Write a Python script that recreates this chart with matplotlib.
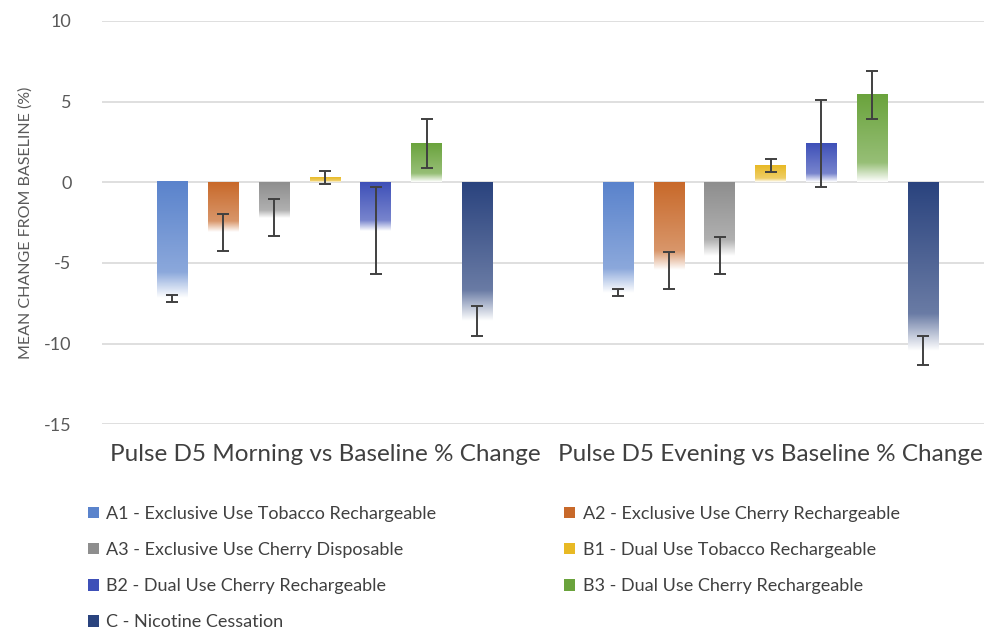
import numpy as np
import matplotlib.pyplot as plt
from matplotlib.patches import Patch
from matplotlib.colors import to_rgb

plt.rcParams.update({
    "font.family": ["Lato", "DejaVu Sans"],
    "text.color": "#595959",
    "axes.labelcolor": "#595959",
    "xtick.color": "#595959",
    "ytick.color": "#595959",
    "axes.unicode_minus": False,
})

categories = ["Pulse D5 Morning vs Baseline % Change",
              "Pulse D5 Evening vs Baseline % Change"]
series = ["A1 - Exclusive Use Tobacco Rechargeable",
          "A2 - Exclusive Use Cherry Rechargeable",
          "A3 - Exclusive Use Cherry Disposable",
          "B1 - Dual Use Tobacco Rechargeable",
          "B2 - Dual Use Cherry Rechargeable",
          "B3 - Dual Use Cherry Rechargeable",
          "C - Nicotine Cessation"]
morning = [-7.2, -3.1, -2.2, 0.28, -3.0, 2.4, -8.6]
evening = [-6.85, -5.45, -4.55, 1.05, 2.4, 5.4, -10.45]
morning_err = [0.2, 1.15, 1.15, 0.4, 2.7, 1.5, 0.93]
evening_err = [0.2, 1.15, 1.15, 0.4, 2.7, 1.5, 0.9]
colors = ["#5A83CC", "#C8692A", "#8E8E8E", "#E8B924",
          "#3E50B8", "#6AA33C", "#2A437E"]

values = np.array([morning, evening])
errors = np.array([morning_err, evening_err])


def gradient_bar(ax, x, w, v, color):
    # excel-style gradient: full colour at top, fading to white at bottom
    top, bottom = max(v, 0), min(v, 0)
    n = 200
    t = np.linspace(0, 1, n)[:, None]
    mix = np.where(t < 0.78, 0.3 * t / 0.78, 0.3 + 0.7 * (t - 0.78) / 0.22)
    base = np.array(to_rgb(color))
    rgb = base * (1 - mix) + mix
    img = rgb[:, None, :]
    ax.imshow(img, extent=[x - w / 2, x + w / 2, bottom, top],
              aspect="auto", origin="upper", zorder=2, interpolation="bilinear")


fig = plt.figure(figsize=(9.84, 6.34), dpi=100)
ax = fig.add_axes([0.1037, 0.331, 0.906, 0.636])
ax.set_xlim(-0.5, 1.5)
ax.set_ylim(-15, 10)

step, width = 0.114, 0.069
for ci in range(len(categories)):
    for si in range(len(series)):
        x = ci + (si - 3) * step
        gradient_bar(ax, x, width, values[ci, si], colors[si])
        ax.errorbar(x, values[ci, si], yerr=errors[ci, si], color="#404040",
                    lw=1.4, capsize=4, capthick=1.4, zorder=3)

ax.set_xlim(-0.5, 1.5)
ax.set_ylim(-15, 10)
ax.set_yticks(np.arange(-15, 11, 5))
ax.set_xticks(range(len(categories)))
ax.set_xticklabels(categories, fontsize=17.5, color="#404040")
ax.tick_params(axis="x", length=0, pad=14)
ax.tick_params(axis="y", length=0, labelsize=13, pad=22)
ax.grid(axis="y", color="#D9D9D9", lw=1.2, zorder=0)
ax.set_axisbelow(True)
for s in ax.spines.values():
    s.set_visible(False)
ax.set_ylabel("MEAN CHANGE FROM BASELINE (%)", fontsize=11.5, labelpad=8)

handles = [Patch(facecolor=c, edgecolor="none") for c in colors]
order = [0, 2, 4, 6, 1, 3, 5]
fig.legend([handles[i] for i in order], [series[i] for i in order],
           ncol=2, loc="upper left", bbox_to_anchor=(0.073, 0.228),
           frameon=False, fontsize=13, handlelength=0.6, handleheight=0.6,
           handletextpad=0.4, columnspacing=7.1, labelspacing=1.12,
           labelcolor="#404040")

fig.savefig("out.png", dpi=100)
